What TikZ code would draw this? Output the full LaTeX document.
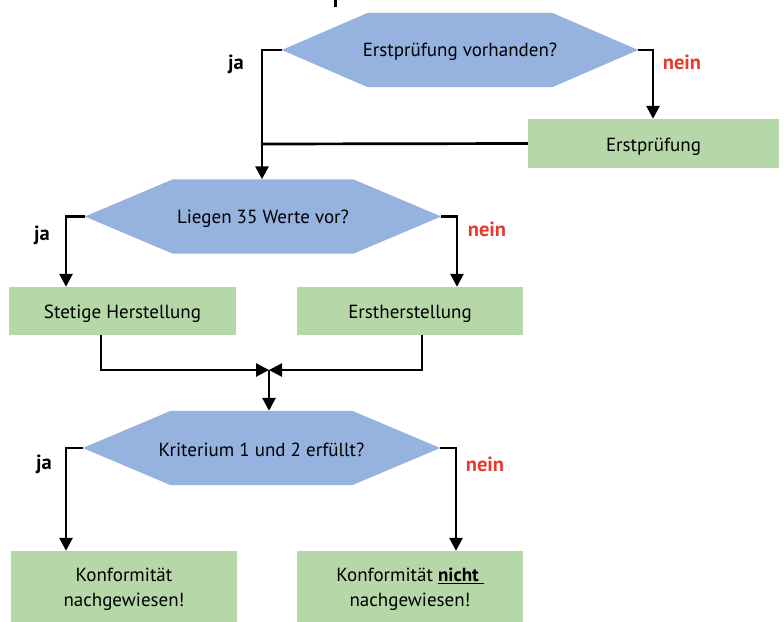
\documentclass[tikz,border=0pt]{standalone}
\usepackage{fontspec}
\setmainfont{PT Sans}
\usetikzlibrary{arrows.meta,calc}
\definecolor{hexblue}{HTML}{95B3DE}
\definecolor{boxgreen}{HTML}{B6D7A8}
\definecolor{neinred}{HTML}{E8392F}
\tikzset{
  hexnode/.style={minimum width=#1, minimum height=74pt, inner sep=0pt},
  hextext/.style={font=\fontsize{19}{22}\selectfont, yshift=-2pt},
  greenbox/.style={fill=boxgreen, inner sep=0pt},
  boxtext/.style={align=center, font=\fontsize{19}{25}\selectfont, yshift=-3pt},
  conn/.style={line width=2.7pt, -{Triangle[length=13pt,width=13pt]}},
  plainconn/.style={line width=2.7pt},
  jalabel/.style={font=\bfseries\fontsize{20.5}{22}\selectfont},
  neinlabel/.style={font=\bfseries\fontsize{20.5}{22}\selectfont, text=neinred},
}
\newcommand{\hexfill}[2]{%
  \fill[hexblue] (#1.west) -- ($(#1.north west)+(#2,0)$) -- ($(#1.north east)-(#2,0)$) -- (#1.east) -- ($(#1.south east)-(#2,0)$) -- ($(#1.south west)+(#2,0)$) -- cycle;}
\begin{document}
\begin{tikzpicture}[x=1pt,y=-1pt]
\useasboundingbox (0,0) rectangle (784,621);
% cut-off mark at top
\fill (333.8,0) rectangle (336.6,7);
% decision nodes
\node[hexnode=356pt] (h1) at (460,50) {};
\node[hexnode=356pt] (h2) at (263,216.5) {};
\node[hexnode=357pt] (h3) at (261.5,448) {};
\hexfill{h1}{86}
\hexfill{h2}{88}
\hexfill{h3}{88}
\node[hextext] (t1) at (h1) {Erstprüfung vorhanden?};
\node[hextext] (t2) at (h2) {Liegen 35 Werte vor?};
\node[hextext] (t3) at (h3) {Kriterium 1 und 2 erfüllt?};
% boxes
\node[greenbox, minimum width=251pt, minimum height=49pt] (b1) at (653.5,143.5) {};
\node[greenbox, minimum width=227pt, minimum height=48pt] (b2) at (122.5,311) {};
\node[greenbox, minimum width=226pt, minimum height=48pt] (b3) at (410,311) {};
\node[greenbox, minimum width=226pt, minimum height=71pt] (b4) at (124,586.5) {};
\node[greenbox, minimum width=226pt, minimum height=71pt] (b5) at (410,586.5) {};
\node[boxtext] (bt1) at (b1) {Erstprüfung};
\node[boxtext] (bt2) at (b2) {Stetige Herstellung};
\node[boxtext] (bt3) at (b3) {Erstherstellung};
\node[boxtext] (bt4) at (b4) {Konformität\\nachgewiesen!};
\node[boxtext] (bt5) at (b5) {Konformität \underline{\textbf{nicht }}\\nachgewiesen!};
% coordinates
\coordinate (j1) at (262,50);
\coordinate (n1) at (653,50);
\coordinate (m1) at (262,144);
\coordinate (j2) at (66,216.5);
\coordinate (n2) at (457,216.5);
\coordinate (s1) at (101,370);
\coordinate (s2) at (422,370);
\coordinate (mid) at (269,370);
\coordinate (j3) at (66,448);
\coordinate (n3) at (456,448);
% connectors
\draw[conn] (h1.west) -- (j1) -- (j1 |- h2.north);
\draw[plainconn] (b1.west) -- (m1);
\draw[conn] (h1.east) -- (n1) -- (n1 |- b1.north);
\draw[conn] (h2.west) -- (j2) -- (j2 |- b2.north);
\draw[conn] (h2.east) -- (n2) -- (n2 |- b3.north);
\draw[conn] (s1 |- b2.south) -- (s1) -- (mid);
\draw[conn] (s2 |- b3.south) -- (s2) -- (mid);
\draw[conn] (mid) -- (mid |- h3.north);
\draw[conn] (h3.west) -- (j3) -- (j3 |- b4.north);
\draw[conn] (h3.east) -- (n3) -- (n3 |- b5.north);
% labels
\node[jalabel] (l1) at (236,64) {ja};
\node[neinlabel] (l2) at (682,62) {nein};
\node[jalabel] (l3) at (42,235) {ja};
\node[neinlabel] (l4) at (487,229) {nein};
\node[jalabel] (l5) at (44,464) {ja};
\node[neinlabel] (l6) at (485,464) {nein};
\end{tikzpicture}
\end{document}
